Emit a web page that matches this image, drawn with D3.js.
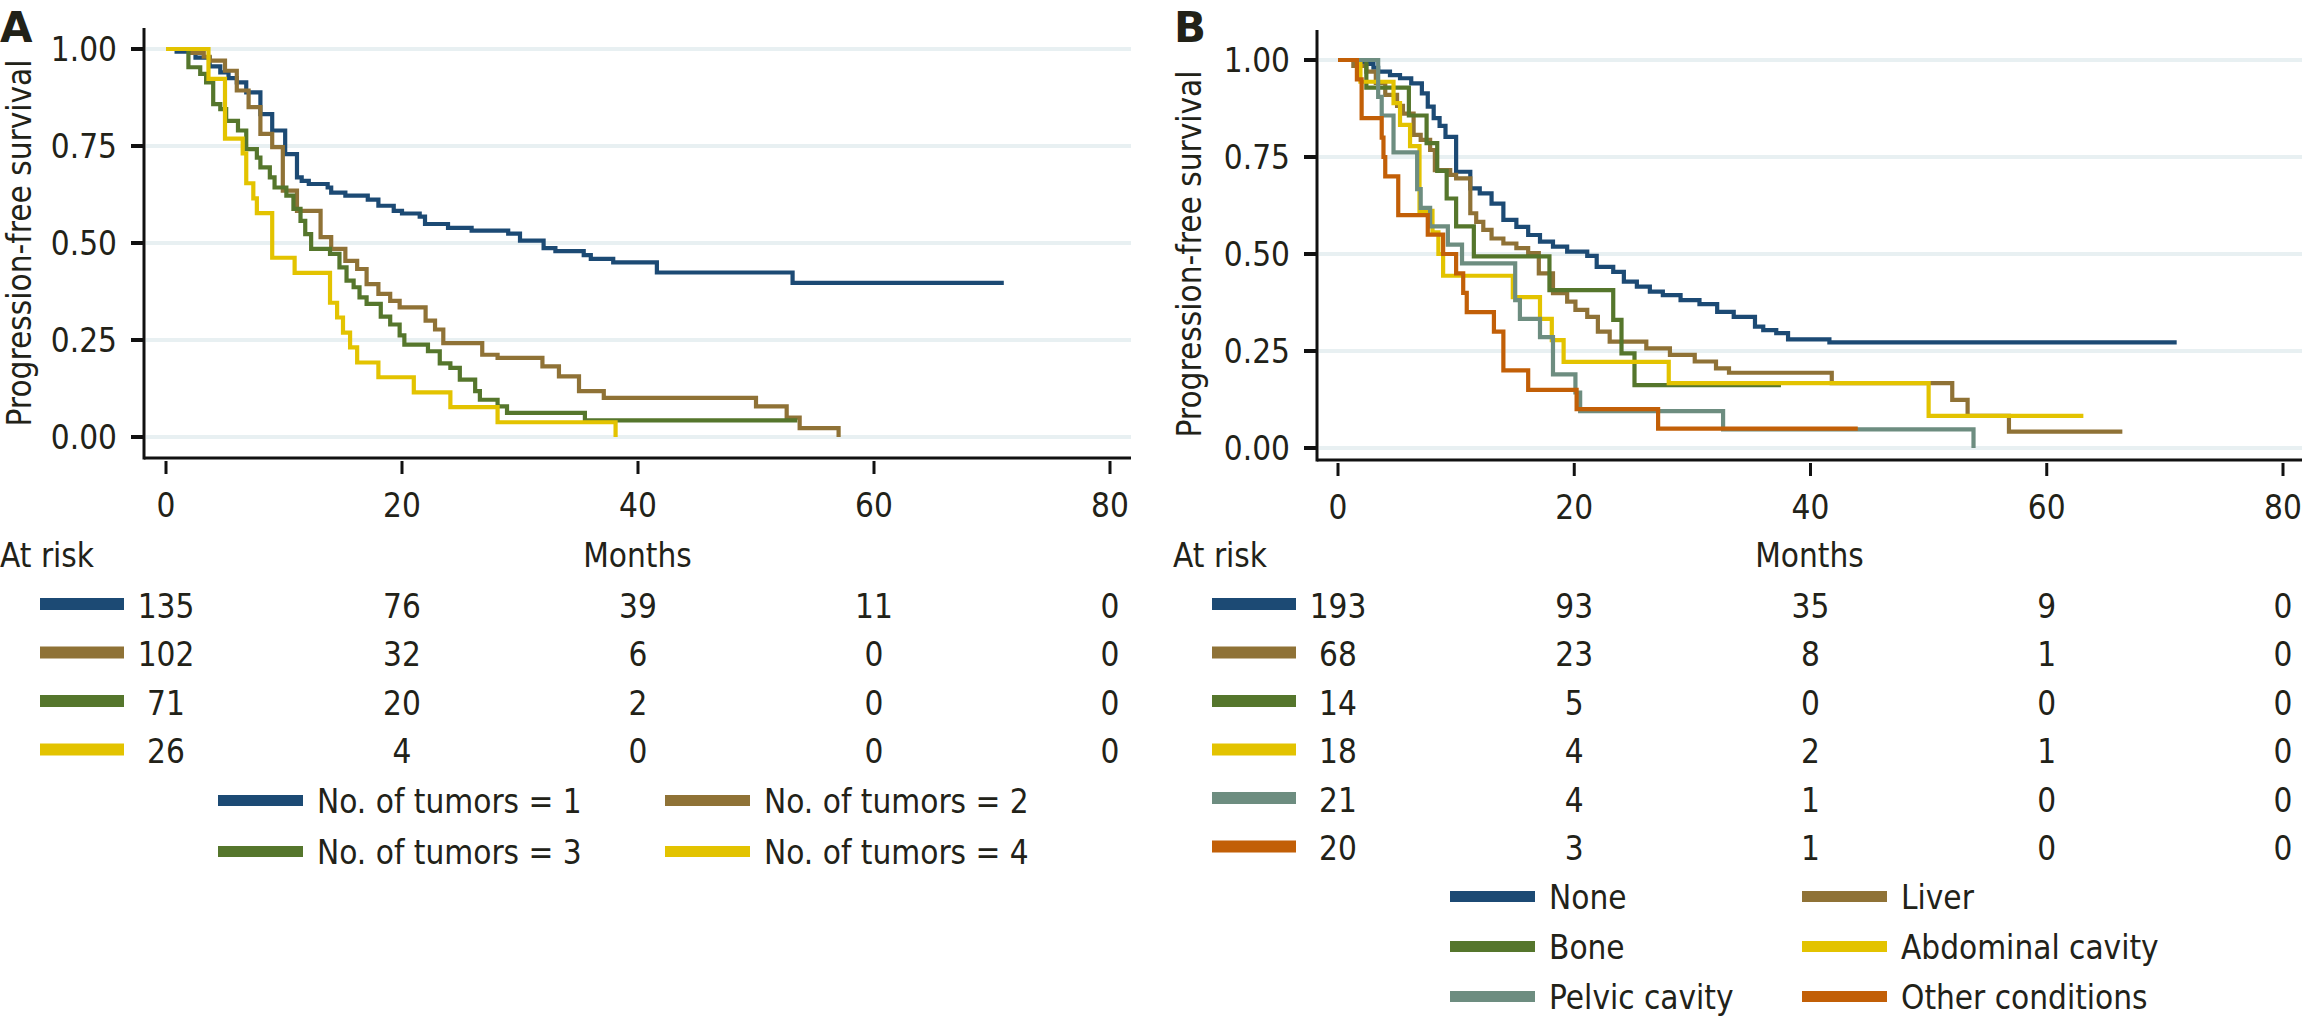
<!DOCTYPE html>
<meta charset="utf-8">
<style>
body { margin: 0; background: #fff; }
svg text { font-family: "DejaVu Sans", Verdana, sans-serif; font-size: 33px; fill: #222218; }
</style>
<body>
<script src="https://d3js.org/d3.v7.min.js"></script>
<script>

let width = 2314;
let height = 1028;

// x ticks (months) and y ticks (survival)
const monthTicks = [0, 20, 40, 60, 80];
const survTicks = [0, 0.25, 0.5, 0.75, 1];

// panel A: number of tumors, [month, survival]
const tumorNames = ["No. of tumors = 1", "No. of tumors = 2", "No. of tumors = 3", "No. of tumors = 4"];
const tumorColors = ["#1c4a74", "#8f7236", "#55762c", "#e3c300"];
const tumors1 = [[0,1],[0.9,0.993],[2.5,0.978],[3.7,0.955],[4.6,0.94],[5.3,0.925],[6.0,0.914],[6.8,0.888],[8.0,0.832],[9.0,0.79],[10.1,0.729],[11.1,0.669],[11.5,0.66],[12.1,0.652],[13.7,0.643],[14.0,0.63],[15.2,0.622],[17.1,0.612],[18.0,0.596],[19.3,0.583],[20.0,0.576],[21.5,0.568],[21.95,0.549],[23.9,0.539],[25.9,0.532],[29.0,0.524],[30.0,0.506],[32.0,0.487],[33.0,0.479],[35.4,0.469],[36.0,0.459],[37.9,0.45],[41.6,0.424],[53.1,0.397],[71,0.397]];
const tumors2 = [[0,1],[2.0,0.99],[3.2,0.98],[3.7,0.97],[5.0,0.944],[6.0,0.893],[7.0,0.85],[8.0,0.781],[9.0,0.747],[9.9,0.635],[11.1,0.583],[13.1,0.515],[14.0,0.485],[15.2,0.454],[16.2,0.433],[17.0,0.394],[18.0,0.369],[19.0,0.351],[19.8,0.334],[22.0,0.30],[22.8,0.277],[23.5,0.242],[26.8,0.212],[28.1,0.204],[31.9,0.182],[33.3,0.156],[35.0,0.118],[37.1,0.101],[50.0,0.079],[52.6,0.05],[53.7,0.023],[57.0,0]];
const tumors3 = [[0,1],[1.9,0.953],[2.9,0.936],[3.4,0.914],[4.0,0.858],[4.6,0.845],[5.1,0.815],[6.1,0.79],[6.8,0.742],[7.7,0.72],[8.0,0.695],[8.8,0.669],[9.2,0.643],[10.2,0.622],[10.8,0.588],[11.4,0.557],[11.8,0.523],[12.3,0.485],[13.9,0.472],[14.7,0.437],[15.3,0.403],[15.9,0.386],[16.4,0.36],[17.0,0.343],[18.2,0.31],[19.0,0.29],[19.8,0.262],[20.2,0.238],[22.2,0.221],[23.2,0.19],[24.1,0.178],[24.9,0.148],[26.2,0.118],[26.6,0.096],[28.1,0.079],[28.9,0.062],[35.5,0.043],[53.5,0.043]];
const tumors4 = [[0,1],[3.6,0.923],[5.0,0.769],[6.5,0.731],[6.8,0.654],[7.4,0.615],[7.7,0.577],[9.0,0.462],[10.9,0.423],[13.9,0.346],[14.5,0.308],[15.0,0.269],[15.6,0.231],[16.2,0.192],[18.0,0.154],[21.0,0.115],[24.1,0.077],[28.1,0.038],[38.1,0]];
const riskA = [[135, 76, 39, 11, 0], [102, 32, 6, 0, 0], [71, 20, 2, 0, 0], [26, 4, 0, 0, 0]];

// panel B: metastasis site
const siteNames = ["None", "Liver", "Bone", "Abdominal cavity", "Pelvic cavity", "Other conditions"];
const siteColors = ["#1c4a74", "#8f7236", "#55762c", "#e3c300", "#6d8d80", "#c25f07"];
const siteNone = [[0,1],[2.0,0.99],[3.0,0.98],[3.4,0.97],[4.4,0.961],[5.25,0.953],[6.2,0.94],[7.1,0.914],[7.6,0.88],[8.1,0.85],[8.6,0.83],[9.1,0.802],[10.0,0.712],[11.2,0.669],[12.0,0.656],[13.0,0.63],[14.0,0.588],[15.1,0.57],[16.1,0.549],[17.1,0.532],[18.2,0.519],[19.4,0.506],[21.1,0.495],[21.9,0.467],[23.3,0.454],[24.2,0.429],[25.3,0.416],[26.4,0.403],[27.5,0.394],[29.0,0.381],[30.6,0.371],[32.1,0.351],[33.5,0.338],[35.3,0.313],[36.0,0.304],[37.1,0.296],[38.1,0.28],[41.6,0.272],[71,0.272]];
const siteLiver = [[0,1],[1.3,0.985],[2.4,0.97],[3.2,0.941],[4.0,0.91],[5.0,0.882],[5.5,0.862],[6.4,0.807],[7.0,0.794],[7.8,0.768],[8.2,0.716],[9.5,0.704],[10.0,0.695],[11.2,0.605],[11.7,0.583],[12.3,0.562],[13.0,0.54],[14.0,0.527],[15.1,0.515],[16.1,0.502],[17.0,0.45],[18.2,0.399],[19.4,0.377],[20.1,0.356],[21.1,0.338],[22.0,0.30],[23.0,0.274],[26.1,0.257],[28.1,0.24],[30.2,0.223],[32.0,0.205],[33.1,0.194],[41.8,0.167],[52.0,0.124],[53.3,0.083],[56.8,0.042],[66.4,0.042]];
const siteBone = [[0,1],[2.4,0.929],[6.0,0.857],[7.5,0.786],[8.4,0.714],[9.2,0.643],[10.0,0.571],[11.5,0.494],[17.9,0.407],[23.3,0.33],[24.0,0.244],[25.1,0.162],[37.5,0.162]];
const siteAbdominal = [[0,1],[1.9,0.944],[4.7,0.889],[5.25,0.833],[6.1,0.778],[6.9,0.611],[8.0,0.556],[8.5,0.5],[8.9,0.444],[14.8,0.389],[17.1,0.333],[18.1,0.278],[19.1,0.222],[28.0,0.167],[50.0,0.083],[63.1,0.083]];
const sitePelvic = [[0,1],[3.4,0.905],[3.7,0.857],[4.7,0.762],[6.7,0.667],[7.0,0.619],[7.8,0.571],[9.3,0.524],[10.5,0.476],[15.0,0.381],[15.4,0.333],[17.1,0.286],[18.2,0.19],[20.1,0.143],[20.5,0.095],[32.6,0.048],[53.8,0]];
const siteOther = [[0,1],[1.6,0.95],[2.0,0.85],[3.7,0.8],[3.85,0.75],[4.0,0.7],[5.1,0.6],[7.6,0.55],[8.9,0.5],[10.0,0.45],[10.6,0.4],[10.9,0.35],[13.2,0.3],[14.0,0.2],[16.1,0.15],[20.2,0.1],[27.1,0.05],[44.0,0.05]];
const riskB = [[193, 93, 35, 9, 0], [68, 23, 8, 1, 0], [14, 5, 0, 0, 0], [18, 4, 2, 1, 0], [21, 4, 1, 0, 0], [20, 3, 1, 0, 0]];

let svg = d3.select("body").append("svg")
    .attr("width", width)
    .attr("height", height);

function drawPanel(p) {
  let g = svg.append("g");
  let x = d3.scaleLinear().domain([0, 80]).range(p.xRange);
  let y = d3.scaleLinear().domain([0, 1]).range(p.yRange);

  // grid
  g.selectAll(".grid").data(survTicks).enter().append("line")
    .attr("x1", p.axisX + 2).attr("x2", p.axisRight)
    .attr("y1", d => y(d)).attr("y2", d => y(d))
    .attr("stroke", "#e8f0f2").attr("stroke-width", 4);

  // curves
  let line = d3.line().x(d => x(d[0])).y(d => y(d[1])).curve(d3.curveStepAfter);
  p.series.forEach((s, i) => {
    g.append("path").datum(s)
      .attr("d", line)
      .attr("fill", "none")
      .attr("stroke", p.colors[i])
      .attr("stroke-width", 4.2);
  });

  // axes
  g.append("line").attr("x1", p.axisX).attr("x2", p.axisX)
    .attr("y1", p.axisTop).attr("y2", p.axisY + 1.5)
    .attr("stroke", "#111").attr("stroke-width", 3);
  g.append("line").attr("x1", p.axisX).attr("x2", p.axisRight)
    .attr("y1", p.axisY).attr("y2", p.axisY)
    .attr("stroke", "#111").attr("stroke-width", 3);

  g.selectAll(".ytick").data(survTicks).enter().append("line")
    .attr("x1", p.axisX - 13).attr("x2", p.axisX)
    .attr("y1", d => y(d)).attr("y2", d => y(d))
    .attr("stroke", "#111").attr("stroke-width", 4);
  g.selectAll(".ylab").data(survTicks).enter().append("text")
    .attr("x", p.axisX - 27).attr("y", d => y(d)).attr("dy", "0.36em")
    .attr("text-anchor", "end")
    .text(d => d3.format(".2f")(d));

  g.selectAll(".xtick").data(monthTicks).enter().append("line")
    .attr("x1", d => x(d)).attr("x2", d => x(d))
    .attr("y1", p.axisY + 3).attr("y2", p.axisY + 16)
    .attr("stroke", "#111").attr("stroke-width", 3);
  g.selectAll(".xlab").data(monthTicks).enter().append("text")
    .attr("x", d => x(d)).attr("y", p.axisY + 59)
    .attr("text-anchor", "middle")
    .text(d => d);

  g.append("text")
    .attr("transform", `translate(${p.ylabX},${(y(0) + y(1)) / 2}) rotate(-90)`)
    .attr("text-anchor", "middle")
    .text("Progression-free survival");

  g.append("text").attr("x", (p.axisX + p.axisRight) / 2).attr("y", 567)
    .attr("text-anchor", "middle").text("Months");
  g.append("text").attr("x", p.atRiskX).attr("y", 567).text("At risk");

  g.append("text").attr("class", "letter").attr("x", p.letterX).attr("y", 42)
    .style("font-size", "42px").style("font-weight", "bold")
    .text(p.letter);

  // risk table
  p.risk.forEach((row, i) => {
    let ry = 604 + i * 48.5;
    g.append("rect")
      .attr("x", x(0) - 126).attr("y", ry - 6)
      .attr("width", 84).attr("height", 12)
      .attr("fill", p.colors[i]);
    g.selectAll(null).data(row).enter().append("text")
      .attr("x", (d, j) => x(monthTicks[j])).attr("y", ry + 2).attr("dy", "0.36em")
      .attr("text-anchor", "middle")
      .text(d => d);
  });

  // legend
  p.names.forEach((name, i) => {
    let col = i % 2, row = Math.floor(i / 2);
    let lx = p.legendX[col], ly = p.legendY + row * p.legendStep;
    g.append("rect").attr("x", lx).attr("y", ly - 6)
      .attr("width", 85).attr("height", 11)
      .attr("fill", p.colors[i]);
    g.append("text").attr("x", lx + p.legendGap).attr("y", ly).attr("dy", "0.36em")
      .text(name);
  });
}

drawPanel({
  letter: "A", letterX: 0,
  xRange: [166, 1110], yRange: [437, 49],
  axisX: 144, axisTop: 28, axisY: 458, axisRight: 1131,
  ylabX: 31, atRiskX: 0,
  series: [tumors1, tumors2, tumors3, tumors4],
  colors: tumorColors, names: tumorNames, risk: riskA,
  legendX: [218, 665], legendY: 801, legendStep: 51, legendGap: 99
});

drawPanel({
  letter: "B", letterX: 1174,
  xRange: [1338, 2283], yRange: [448, 60],
  axisX: 1317, axisTop: 30, axisY: 460, axisRight: 2302,
  ylabX: 1201, atRiskX: 1173,
  series: [siteNone, siteLiver, siteBone, siteAbdominal, sitePelvic, siteOther],
  colors: siteColors, names: siteNames, risk: riskB,
  legendX: [1450, 1802], legendY: 897, legendStep: 50, legendGap: 99
});

// the original type is narrow and tall: squeeze each text to 90% of its width
svg.selectAll("text").filter(function() { return !this.classList.contains("letter"); })
  .each(function() {
    let len = this.getComputedTextLength();
    d3.select(this).attr("textLength", len * 0.9).attr("lengthAdjust", "spacingAndGlyphs");
  });

</script>
